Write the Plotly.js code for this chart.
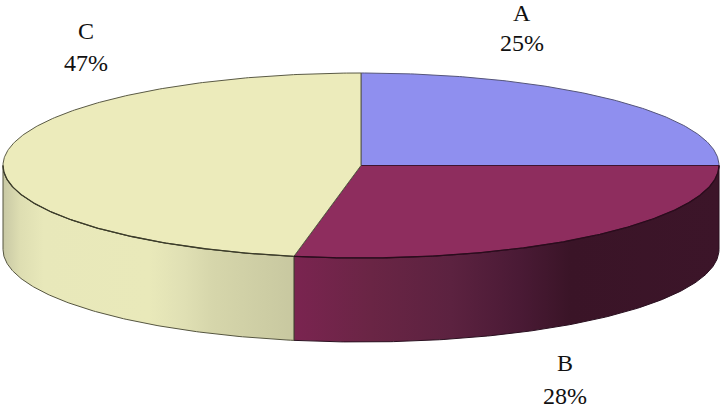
<!DOCTYPE html>
<html><head><meta charset="utf-8">
<script src="https://cdn.plot.ly/plotly-3.0.1.min.js"></script>
<style>html,body{margin:0;padding:0;background:#fff}</style></head>
<body><div id="chart" style="width:724px;height:410px"></div>
<script>
const categories = ["A", "B", "C"];
const shares = [25, 28, 47];

// style and geometry
const topColors = ["#8f8fef", "#8e2d5e", "#ecebbb"];
const labelPos = [[522, 13, 43], [565, 363, 396], [86, 31, 63]];
const cx = 361, cy = 165.5, rx = 358, ry = 92.5, depth = 84;
const W = 724, H = 410;
const wallScales = {
  1: [[0, "#7a2450"], [0.18, "#6a2545"], [0.37, "#5c2240"], [0.53, "#4a1a35"], [0.65, "#3a1427"], [1, "#3c1529"]],
  2: [[0, "#c8c8a4"], [0.06, "#dedeb2"], [0.14, "#e8e8ba"], [0.5, "#e9e9ba"], [0.62, "#e0e0b4"], [0.72, "#d6d6ab"], [1, "#c8c8a0"]]
};

const px = t => cx + rx * Math.sin(t);
const py = t => cy - ry * Math.cos(t);
const total = shares.reduce((a, b) => a + b, 0);
let acc = 0;
const arcs = shares.map(v => { const a = acc; acc += v; return [a / total * 2 * Math.PI, acc / total * 2 * Math.PI]; });

function arcPts(a, b, dy) {
  const xs = [], ys = [], n = Math.max(2, Math.ceil((b - a) / 0.01));
  for (let i = 0; i <= n; i++) { const t = a + (b - a) * i / n; xs.push(px(t)); ys.push(py(t) + dy); }
  return [xs, ys];
}

const traces = [];
// side walls
[1, 2].forEach(i => {
  const a = Math.max(arcs[i][0], Math.PI / 2), b = Math.min(arcs[i][1], 1.5 * Math.PI);
  const [tx, ty] = arcPts(a, b, 0), [bx, by] = arcPts(a, b, depth);
  const xs = tx.concat(bx.slice().reverse(), [tx[0]]);
  const ys = ty.concat(by.slice().reverse(), [ty[0]]);
  traces.push({
    x: xs, y: ys, mode: "lines", fill: "toself", hoverinfo: "skip", showlegend: false,
    line: { color: i === 1 ? "#2a1020" : "#55553f", width: 1 },
    fillgradient: { type: "horizontal", colorscale: wallScales[i], start: Math.min(...xs), stop: Math.max(...xs) }
  });
});
// top faces
arcs.forEach((arc, i) => {
  const [ax, ay] = arcPts(arc[0], arc[1], 0);
  traces.push({
    x: [cx].concat(ax, [cx]), y: [cy].concat(ay, [cy]), mode: "lines", fill: "toself",
    fillcolor: topColors[i], hoverinfo: "skip", showlegend: false,
    line: { color: ["#55557a", "#3f1530", "#5a5a45"][i], width: 1 }
  });
});
// darker front rim of the top face
[1, 2].forEach(i => {
  const a = Math.max(arcs[i][0], Math.PI / 2), b = Math.min(arcs[i][1], 1.5 * Math.PI);
  const [fx, fy] = arcPts(a, b, 0);
  traces.push({ x: fx, y: fy, mode: "lines", hoverinfo: "skip", showlegend: false,
    line: { color: i === 1 ? "#2a0c1c" : "#3c3c2a", width: 1.3 } });
});

const annotations = [];
categories.forEach((c, i) => {
  const font = { family: "Liberation Serif, serif", size: 24, color: "#111" };
  annotations.push({ x: labelPos[i][0], y: labelPos[i][1], text: c, showarrow: false, font, borderpad: 0 });
  annotations.push({ x: labelPos[i][0], y: labelPos[i][2], text: shares[i] + "%", showarrow: false, font, borderpad: 0 });
});

Plotly.newPlot("chart", traces, {
  width: W, height: H, margin: { l: 0, r: 0, t: 0, b: 0 },
  paper_bgcolor: "#fff", plot_bgcolor: "#fff", showlegend: false, annotations,
  xaxis: { range: [0, W], visible: false, fixedrange: true },
  yaxis: { range: [H, 0], visible: false, fixedrange: true }
}, { displayModeBar: false, staticPlot: true });
</script></body></html>
